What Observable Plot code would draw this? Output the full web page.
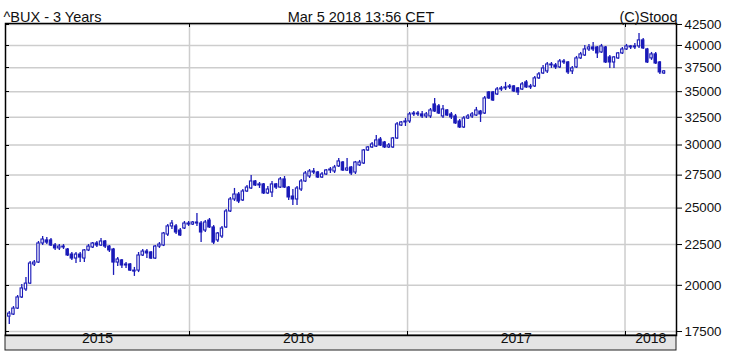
<!DOCTYPE html>
<html><head><meta charset="utf-8">
<script src="https://cdn.jsdelivr.net/npm/d3@7"></script>
<script src="https://cdn.jsdelivr.net/npm/@observablehq/plot@0.6"></script>
<style>
html,body{margin:0;padding:0;background:#fff;}
</style></head><body><div id="chart"></div>
<script>
const title = "^BUX - 3 Years";
const stamp = "Mar 5 2018 13:56 CET";
const source = "(C)Stooq";
const firstWeek = "2015-03-02";
const lastWeek = "2018-03-05";
const yTicks = [17500, 20000, 22500, 25000, 27500, 30000, 32500, 35000, 37500, 40000, 42500];
const years = [2015, 2016, 2017, 2018];

const open = [
18270,18380,18700,19310,19760,20100,21240,21360,22570,22770,
22770,22440,22250,22370,22180,21860,21610,21860,21610,22120,
22310,22570,22440,22700,22370,22180,21360,21490,21180,21240,
20870,20870,21800,22050,21990,21610,22370,22440,23160,23710,
23710,23430,23570,23910,23840,23910,23910,23430,24120,23640,
22770,23030,23640,24760,25630,26000,25560,26230,26460,27000,
26690,26770,26080,26150,26770,26530,27160,26530,25850,25630,
26380,27000,27390,27790,27710,27310,27550,27870,27790,28200,
28520,27870,28110,27710,28280,28440,29530,29790,29870,30480,
30220,29790,29790,30570,31740,32020,32110,32770,32860,32770,
32580,32580,33730,33540,32580,33150,32770,32580,32110,31560,
32390,32580,32670,33050,32860,34920,34920,34720,35220,35330,
35430,35530,35330,35220,35950,35430,35530,36370,36890,37110,
37860,37760,37540,38190,38080,37110,37540,38530,38860,39540,
39770,39770,39200,39770,38640,38080,38530,39090,39540,39770,
39890,39890,40590,39540,38530,38980,38080,36890];
const close = [
18430,18700,19310,19820,20100,21300,21360,22570,22830,22630,
22440,22250,22370,22310,21800,21610,21860,21670,22120,22370,
22570,22440,22700,22370,22120,21360,21550,21180,21240,20870,
20810,21800,22050,21930,21610,22370,22500,23230,23710,23910,
23300,23100,23910,23840,23980,23980,23300,23980,23640,22630,
23230,23570,24760,25630,26000,25480,26230,26530,27000,26690,
26770,26080,26380,26770,26530,27160,26530,25780,25630,26460,
27000,27630,27790,27710,27310,27550,27870,27950,28110,28610,
27870,28030,27630,28520,28520,29530,29790,30050,30400,29960,
29790,29960,30570,31840,32020,32110,32770,32860,32770,32580,
32770,33150,33050,32860,33250,32670,32490,31930,31560,32390,
32580,32770,33150,32770,34320,34320,34120,35220,35330,35430,
35530,35020,34920,35740,35430,35530,36370,36790,37430,37860,
37760,37540,38190,38080,37000,37430,38530,38980,39540,39770,
39540,39090,39890,38080,38080,38640,39090,39540,39890,39890,
39770,40590,39660,38080,38980,37970,37000,37110];
const high = [
18540,18810,19420,20050,20460,21430,21490,22700,23030,22960,
22900,22570,22500,22500,22250,21990,21990,21990,22180,22500,
22630,22700,22900,22770,22440,22250,21670,21550,21360,21300,
21060,21990,22180,22180,22050,22440,22630,23300,23840,24120,
23840,23570,24050,24050,24050,24610,24050,24120,24260,23770,
23300,23710,24900,25780,26460,26150,26380,26690,27470,27080,
26920,26840,26610,27000,26840,27310,27390,26610,26380,26610,
27160,27790,27950,28030,27790,27710,27950,28110,28280,28850,
28610,28850,28200,28610,28690,29620,29870,30220,30840,30660,
30310,30130,30660,32020,32110,32390,32960,33050,33050,33050,
32960,33340,34320,33730,33630,33250,32960,32770,32300,32580,
32770,32960,33440,33150,34520,35020,35020,35430,35530,35950,
35740,35630,35430,35950,36150,35740,36570,37000,37760,38080,
38080,37970,38420,38420,38190,37650,38750,39200,40000,40120,
40350,39890,40120,39890,38860,38750,39200,39770,40120,40000,
40240,41410,40820,39660,39200,39200,38190,37210];
const low = [
17860,18330,18650,19250,19640,20050,21120,21300,22440,22500,
22370,22120,22120,22180,21740,21490,21300,21360,21360,22050,
22250,22310,22370,22250,21990,20580,21120,21000,21000,20810,
20520,20750,21740,21610,21550,21550,22250,22370,23030,23500,
23160,23030,23500,23710,23770,23710,22630,23300,23570,22500,
22630,22900,23570,24680,25480,25330,25480,26150,26380,26610,
26460,26000,26000,25780,26380,26460,26460,25560,25190,25190,
26230,26920,27230,27550,27230,27230,27470,27630,27630,28110,
27790,27790,27470,27550,28200,28360,29450,29700,29790,29870,
29700,29700,29700,30480,31650,31650,31930,32580,32580,32390,
32390,32390,32960,32770,32390,32580,32300,31840,31470,31470,
32300,32390,32580,32020,32770,34220,34020,34620,35020,35120,
35220,34920,34620,35120,35330,35220,35430,36260,36790,36890,
37430,37320,37430,37860,36790,36790,37430,38420,38750,39320,
39320,38530,39090,37970,37430,37430,38420,38980,39430,39540,
39540,39660,39540,37970,38310,37860,36790,36790];

const blue = "#1a1ab8";
const grid = "#cdcdcd";
const DAY = 864e5;
const xDomain = [new Date("2015-02-26T04:00:00Z"), new Date("2018-03-28T10:00:00Z")];
const yDomain = [17300, 42620];

const weeks = d3.utcMonday.range(new Date(firstWeek + "T00:00:00Z"), new Date(+new Date(lastWeek + "T00:00:00Z") + DAY));
const candles = weeks.map((w, i) => ({
  date: new Date(+w + 2.5 * DAY),
  open: open[i], high: high[i], low: low[i], close: close[i]
}));
const yearStarts = years.map(y => new Date(Date.UTC(y, 0, 1)));
const yearLabels = years.map(y => {
  const a = Math.max(+xDomain[0], Date.UTC(y, 0, 1));
  const b = Math.min(+xDomain[1], Date.UTC(y + 1, 0, 1));
  return {label: String(y), mid: new Date((a + b) / 2)};
});

function band(index, scales, values, dims) {
  const g = d3.create("svg:g");
  const x0 = dims.marginLeft, x1 = dims.width - dims.marginRight;
  const y0 = dims.height - dims.marginBottom;
  g.append("rect").attr("x", x0).attr("y", y0).attr("width", x1 - x0).attr("height", dims.marginBottom - 2)
    .attr("fill", "#e4e4e4").attr("stroke", "#222").attr("stroke-width", 1);
  return g.node();
}
function innerTicks(index, scales, values, dims) {
  const g = d3.create("svg:g").attr("stroke", "black").attr("stroke-width", 1);
  const x0 = dims.marginLeft;
  const top = dims.marginTop, bottom = dims.height - dims.marginBottom;
  for (const t of yTicks) {
    const y = Math.round(scales.y(t)) + 0.5;
    g.append("line").attr("x1", x0).attr("x2", x0 + 4).attr("y1", y).attr("y2", y);
  }
  for (const d of yearStarts.slice(1)) {
    const x = Math.round(scales.x(d)) + 0.5;
    g.append("line").attr("x1", x).attr("x2", x).attr("y1", top).attr("y2", top + 4);
    g.append("line").attr("x1", x).attr("x2", x).attr("y1", bottom).attr("y2", bottom - 4);
  }
  return g.node();
}

const chart = Plot.plot({
  width: 730, height: 352,
  marginLeft: 5, marginRight: 54, marginTop: 23, marginBottom: 17,
  style: {fontFamily: "'Liberation Sans', Arial, sans-serif", fontSize: "13px", color: "#111", background: "#fff"},
  x: {type: "utc", domain: xDomain, axis: null},
  y: {type: "log", domain: yDomain, axis: null},
  marks: [
    Plot.ruleY(yTicks, {stroke: grid, strokeWidth: 1.5}),
    Plot.ruleX(yearStarts.slice(1), {stroke: grid, strokeWidth: 1.5}),
    Plot.ruleX(candles, {x: "date", y1: "low", y2: "high", stroke: blue, strokeWidth: 1.3}),
    Plot.rect(candles, {
      x1: d => new Date(+d.date - 2 * DAY),
      x2: d => new Date(+d.date + 2 * DAY),
      y1: "open", y2: "close",
      fill: d => d.close < d.open ? blue : "white",
      stroke: blue, strokeWidth: 1.1
    }),
    band,
    Plot.frame({stroke: "black", strokeWidth: 1.5}),
    innerTicks,
    Plot.axisY(yTicks, {anchor: "right", tickSize: 5, tickPadding: 3, tickFormat: d => String(d), fontSize: 13.3, stroke: "black"}),
    Plot.text(yearLabels, {x: "mid", text: "label", frameAnchor: "bottom", dy: 7.5, fontSize: 14, fill: "#111"}),
    Plot.text([title], {frameAnchor: "top-left", dx: -2, dy: -11.6, textAnchor: "start", fontSize: 14.5, fill: "#111"}),
    Plot.text([stamp], {frameAnchor: "top", dx: 20, dy: -11.6, fontSize: 14.5, fill: "#111"}),
    Plot.text([source], {frameAnchor: "top-right", dx: 1, dy: -11.6, textAnchor: "end", fontSize: 14.5, fill: "#111"})
  ]
});
document.getElementById("chart").appendChild(chart);
</script></body></html>
